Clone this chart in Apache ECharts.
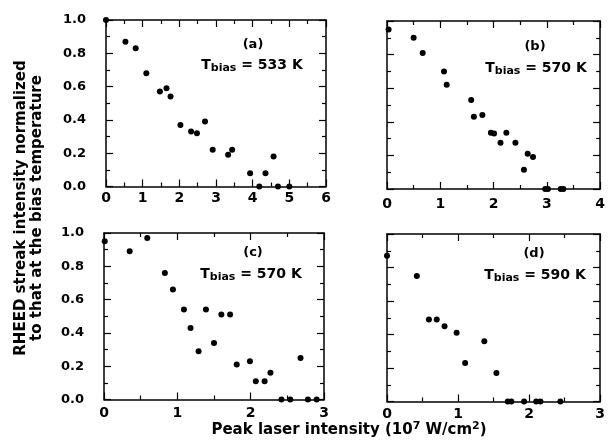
<!DOCTYPE html>
<html>
<head>
<meta charset="utf-8">
<script src="https://cdn.jsdelivr.net/npm/echarts@6/dist/echarts.min.js"></script>
<style>
  html, body { margin: 0; padding: 0; background: #fff; }
  #chart { width: 608px; height: 448px; }
</style>
</head>
<body>
<div id="chart"></div>
<script>
// Peak laser intensity (10^7 W/cm^2) and normalized RHEED streak intensity, per panel
const intensityA = [0, 0.53, 0.81, 1.10, 1.47, 1.65, 1.76, 2.03, 2.32, 2.48, 2.70, 2.91, 3.33, 3.44, 3.93, 4.18, 4.35, 4.57, 4.69, 5.00];
const streakA    = [1.00, 0.87, 0.83, 0.68, 0.57, 0.59, 0.54, 0.37, 0.33, 0.32, 0.39, 0.22, 0.19, 0.22, 0.08, 0.00, 0.08, 0.18, 0.00, 0.00];

const intensityB = [0.03, 0.50, 0.67, 1.07, 1.12, 1.58, 1.63, 1.79, 1.95, 2.01, 2.13, 2.24, 2.41, 2.57, 2.64, 2.74, 2.97, 3.02, 3.26, 3.31];
const streakB    = [0.95, 0.90, 0.81, 0.70, 0.62, 0.53, 0.43, 0.44, 0.335, 0.33, 0.275, 0.335, 0.275, 0.115, 0.21, 0.19, 0.00, 0.00, 0.00, 0.00];

const intensityC = [0.01, 0.35, 0.59, 0.83, 0.94, 1.09, 1.18, 1.29, 1.39, 1.50, 1.60, 1.72, 1.81, 1.99, 2.07, 2.19, 2.27, 2.42, 2.54, 2.68, 2.78, 2.90];
const streakC    = [0.95, 0.89, 0.97, 0.76, 0.66, 0.54, 0.43, 0.29, 0.54, 0.34, 0.51, 0.51, 0.21, 0.23, 0.11, 0.11, 0.16, 0.00, 0.00, 0.25, 0.00, 0.00];

const intensityD = [0.00, 0.42, 0.59, 0.70, 0.81, 0.98, 1.10, 1.37, 1.54, 1.70, 1.75, 1.93, 2.10, 2.16, 2.44];
const streakD    = [0.87, 0.75, 0.49, 0.49, 0.45, 0.41, 0.23, 0.36, 0.17, 0.00, 0.00, 0.00, 0.00, 0.00, 0.00];

const panelTags = ['(a)', '(b)', '(c)', '(d)'];
const biasTemps = ['533', '570', '570', '590'];
const xMaxes = [6, 4, 3, 3];
const yTicks = [0, 0.2, 0.4, 0.6, 0.8, 1.0];

const FONT = '"DejaVu Sans", "Liberation Sans", Arial, sans-serif';
const INK = '#000';

const panels = [
  { x: intensityA, y: streakA, grid: { left: 106, right: 282, top: 20, bottom: 261.5 }, yLabels: true, xMargin: 5 },
  { x: intensityB, y: streakB, grid: { left: 387, right: 2, top: 21, bottom: 259 }, yLabels: false, xMargin: 8 },
  { x: intensityC, y: streakC, grid: { left: 104, right: 284, top: 233, bottom: 48.5 }, yLabels: true, xMargin: 7 },
  { x: intensityD, y: streakD, grid: { left: 387, right: 3, top: 234, bottom: 46.5 }, yLabels: false, xMargin: 6 }
];

const tick = (len) => ({ show: true, inside: true, length: len, lineStyle: { color: INK, width: 1.2 } });
const minor = { show: true, splitNumber: 2, length: 4, lineStyle: { color: INK, width: 1.2 } };
const line = { show: true, onZero: false, lineStyle: { color: INK, width: 1.5 } };

const grids = [], xAxes = [], yAxes = [], series = [];
panels.forEach((p, i) => {
  grids.push(Object.assign({ containLabel: false }, p.grid));
  const xBase = {
    type: 'value', gridIndex: i, min: 0, max: xMaxes[i], interval: 1,
    axisLine: line, axisTick: tick(7), minorTick: minor, splitLine: { show: false }
  };
  xAxes.push(Object.assign({}, xBase, {
    position: 'bottom',
    axisLabel: { show: true, margin: p.xMargin, color: INK, fontFamily: FONT, fontWeight: 'bold', fontSize: 14 }
  }));
  xAxes.push(Object.assign({}, xBase, { position: 'top', axisLabel: { show: false } }));
  const yBase = {
    type: 'value', gridIndex: i, min: yTicks[0], max: yTicks[yTicks.length - 1], interval: 0.2,
    axisLine: line, axisTick: tick(7), minorTick: minor, splitLine: { show: false }
  };
  yAxes.push(Object.assign({}, yBase, {
    position: 'left',
    axisLabel: {
      show: p.yLabels, margin: 20, color: INK, fontFamily: FONT, fontWeight: 'bold', fontSize: 13,
      formatter: (v) => v.toFixed(1)
    }
  }));
  yAxes.push(Object.assign({}, yBase, { position: 'right', axisLabel: { show: false } }));
  series.push({
    type: 'scatter', xAxisIndex: 2 * i, yAxisIndex: 2 * i,
    symbol: 'circle', symbolSize: 6, itemStyle: { color: INK, opacity: 1 },
    data: p.x.map((v, k) => [v, p.y[k]]),
    silent: true, animation: false
  });
});

// Panel tags and bias-temperature captions
const tagPos = [[253, 44.5], [535, 47], [253, 253], [534, 254]];
const capPos = [[252, 65], [536, 68], [251, 274], [535, 275]];
const graphics = [];
panelTags.forEach((tag, i) => {
  graphics.push({
    type: 'text', x: tagPos[i][0], y: tagPos[i][1],
    style: { text: tag, fill: INK, font: 'bold 13px ' + FONT, align: 'center', verticalAlign: 'middle' }
  });
  graphics.push({
    type: 'text', x: capPos[i][0], y: capPos[i][1],
    style: {
      text: '{m|T}{s|bias}{m| = ' + biasTemps[i] + ' K}',
      fill: INK, align: 'center', verticalAlign: 'middle',
      rich: {
        m: { fontFamily: FONT, fontWeight: 'bold', fontSize: 14, fill: INK },
        s: { fontFamily: FONT, fontWeight: 'bold', fontSize: 11, fill: INK, padding: [7, 0, 0, 0] }
      }
    }
  });
});

// Shared axis titles
graphics.push({
  type: 'text', x: 29, y: 208, rotation: Math.PI / 2,
  style: {
    text: 'RHEED streak intensity normalized\nto that at the bias temperature',
    fill: INK, font: 'bold 15px ' + FONT, lineHeight: 16, align: 'center', verticalAlign: 'middle'
  }
});
graphics.push({
  type: 'text', x: 349, y: 430,
  style: {
    text: '{m|Peak laser intensity (10}{u|7}{m| W/cm}{u|2}{m|)}',
    fill: INK, align: 'center', verticalAlign: 'middle',
    rich: {
      m: { fontFamily: FONT, fontWeight: 'bold', fontSize: 15, fill: INK },
      u: { fontFamily: FONT, fontWeight: 'bold', fontSize: 11, fill: INK, padding: [0, 0, 7, 0] }
    }
  }
});

const chart = echarts.init(document.getElementById('chart'), null, { renderer: 'canvas' });
chart.setOption({
  animation: false,
  backgroundColor: '#fff',
  grid: grids,
  xAxis: xAxes,
  yAxis: yAxes,
  series: series,
  graphic: graphics
});
</script>
</body>
</html>
